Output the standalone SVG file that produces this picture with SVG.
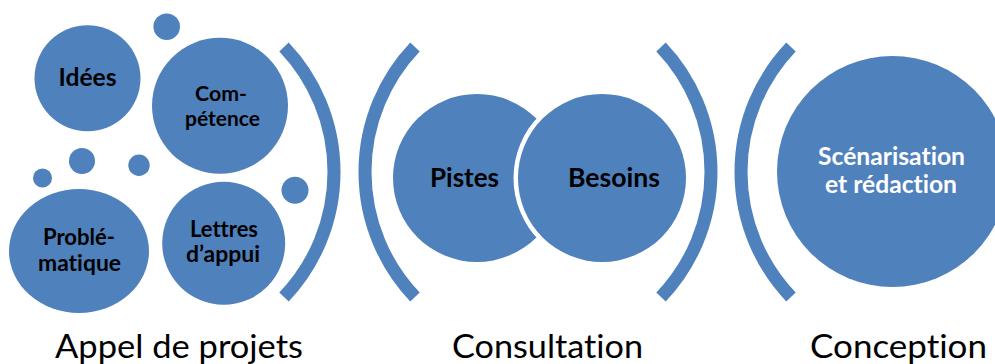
<svg xmlns="http://www.w3.org/2000/svg" width="995" height="364" viewBox="0 0 995 364">
  <style>
    .b { fill: #4F81BD; }
    .br { fill: none; stroke: #4F81BD; stroke-width: 13; stroke-linecap: butt; }
    .t { font-family: Lato, "Open Sans", "Liberation Sans", sans-serif; font-weight: bold; fill: #000; text-anchor: middle; font-variant-ligatures: none; }
    .w { fill: #fff; }
    .lbl { font-family: Lato, "Open Sans", "Liberation Sans", sans-serif; font-size: 32px; fill: #000; text-anchor: middle; font-variant-ligatures: none; }
  </style>
  <rect width="995" height="364" fill="#fff"/>

  <g id="connectors">
    <path class="br" d="M 284 47 A 181.25 181.25 0 0 1 284 297"/>
    <path class="br" d="M 415 47 A 181.25 181.25 0 0 0 415 297"/>
    <path class="br" d="M 661 47 A 181.25 181.25 0 0 1 661 297"/>
    <path class="br" d="M 791 47 A 181.25 181.25 0 0 0 791 297"/>
  </g>

  <g id="dots">
    <circle class="b" cx="166.7" cy="26.7" r="13.3"/>
    <circle class="b" cx="82" cy="161" r="13"/>
    <circle class="b" cx="42.5" cy="178" r="9.5"/>
    <circle class="b" cx="139" cy="165.3" r="10.7"/>
    <circle class="b" cx="295" cy="190.3" r="13.5"/>
  </g>

  <g id="idees">
    <circle class="b" cx="87.5" cy="78.3" r="53"/>
    <text class="t" x="87.5" y="86" font-size="24" textLength="58" lengthAdjust="spacingAndGlyphs">Idées</text>
  </g>
  <g id="competence">
    <circle class="b" cx="220" cy="105.8" r="68"/>
    <text class="t" x="221" y="101" font-size="21" textLength="52" lengthAdjust="spacingAndGlyphs">Com-</text>
    <text class="t" x="222.5" y="126" font-size="21" textLength="75" lengthAdjust="spacingAndGlyphs">pétence</text>
  </g>
  <g id="problematique">
    <ellipse class="b" cx="79" cy="251" rx="70" ry="62"/>
    <text class="t" x="79" y="245" font-size="22" textLength="72" lengthAdjust="spacingAndGlyphs">Problé-</text>
    <text class="t" x="79.5" y="271" font-size="22" textLength="83" lengthAdjust="spacingAndGlyphs">matique</text>
  </g>
  <g id="lettres">
    <circle class="b" cx="223.7" cy="243.3" r="61.5"/>
    <text class="t" x="224" y="237" font-size="22" textLength="68" lengthAdjust="spacingAndGlyphs">Lettres</text>
    <text class="t" x="223" y="262" font-size="22" textLength="74" lengthAdjust="spacingAndGlyphs">d’appui</text>
  </g>

  <g id="pistes">
    <circle class="b" cx="477" cy="178" r="84"/>
    <text class="t" x="464.5" y="187" font-size="27.5" textLength="69" lengthAdjust="spacingAndGlyphs">Pistes</text>
  </g>
  <g id="besoins">
    <circle fill="#fff" cx="602" cy="178" r="88.5"/>
    <circle class="b" cx="602" cy="178" r="84"/>
    <text class="t" x="614" y="187" font-size="27.5" textLength="92" lengthAdjust="spacingAndGlyphs">Besoins</text>
  </g>

  <g id="scenarisation">
    <circle class="b" cx="892.5" cy="171.5" r="115.5"/>
    <text class="t w" x="891.5" y="165" font-size="25" textLength="147" lengthAdjust="spacingAndGlyphs">Scénarisation</text>
    <text class="t w" x="891" y="193" font-size="25" textLength="132" lengthAdjust="spacingAndGlyphs">et rédaction</text>
  </g>

  <g id="labels">
    <text class="lbl" x="179" y="358" textLength="248" lengthAdjust="spacingAndGlyphs">Appel de projets</text>
    <text class="lbl" x="547.5" y="358" textLength="191" lengthAdjust="spacingAndGlyphs">Consultation</text>
    <text class="lbl" x="898.5" y="358" textLength="177" lengthAdjust="spacingAndGlyphs">Conception</text>
  </g>
</svg>
